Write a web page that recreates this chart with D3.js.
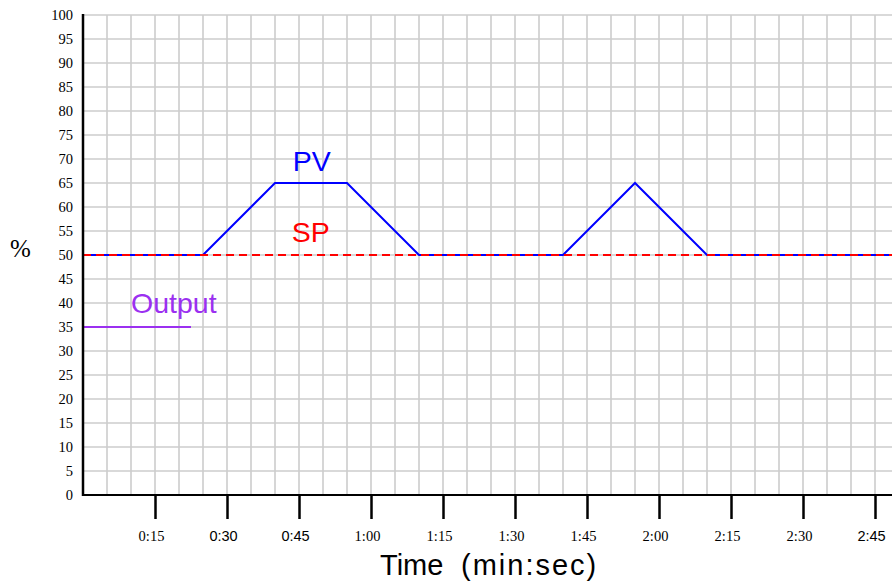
<!DOCTYPE html>
<html>
<head>
<meta charset="utf-8">
<script src="https://cdn.jsdelivr.net/npm/d3@7"></script>
<style>
  html, body { margin: 0; padding: 0; background: #fff; }
  svg { display: block; }
</style>
</head>
<body>
<svg id="chart" width="892" height="586"></svg>
<script>
// ---- data ----
const pvTimes   = [0, 25, 40, 55, 70, 100, 115, 130, 180];
const pvValues  = [50, 50, 65, 65, 50, 50, 65, 50, 50];
const spTimes   = [0, 180];
const spValues  = [50, 50];
const outTimes  = [0, 22.5];
const outValues = [35, 35];
const xTickSeconds = [15, 30, 45, 60, 75, 90, 105, 120, 135, 150, 165];
const xTickLabels  = ["0:15", "0:30", "0:45", "1:00", "1:15", "1:30", "1:45", "2:00", "2:15", "2:30", "2:45"];
const xTickSans    = ["0:30", "0:45", "2:45"];
const yTicks = d3.range(0, 101, 5);
const seriesLabels = [
  {text: "PV", t: 43.7, v: 67.6, color: "#0000ff"},
  {text: "SP", t: 43.5, v: 52.8, color: "#ff0000"},
  {text: "Output", t: 10.0, v: 37.9, color: "#9b30f0"}
];

(function () {
// ---- layout ----
const W = 892, H = 586;
const mLeft = 83, mTop = 15, mBottom = 495;
const pxPerUnit = (mBottom - mTop) / 100;
const svg = d3.select("#chart");

const x = d3.scaleLinear().domain([0, 180]).range([mLeft, mLeft + 180 * pxPerUnit]);
const y = d3.scaleLinear().domain([0, 100]).range([mBottom, mTop]);

svg.append("defs").append("clipPath").attr("id", "plotclip")
  .append("rect").attr("x", mLeft).attr("y", 0).attr("width", W - mLeft).attr("height", mBottom + 1);

// grid
const grid = svg.append("g").attr("stroke", "#cccccc").attr("stroke-width", 1.6);
const vGrid = d3.range(5, 200, 5).filter(s => x(s) <= W);
grid.selectAll("line.v").data(vGrid).join("line").attr("class", "v")
  .attr("x1", d => x(d)).attr("x2", d => x(d))
  .attr("y1", y(100)).attr("y2", y(0));
grid.selectAll("line.h").data(yTicks.filter(d => d > 0)).join("line").attr("class", "h")
  .attr("x1", mLeft).attr("x2", W)
  .attr("y1", d => y(d)).attr("y2", d => y(d));

// lines
const lineGen = (ts, vs) => d3.line().x((d, i) => x(ts[i])).y((d, i) => y(vs[i]))(vs);
const plot = svg.append("g").attr("clip-path", "url(#plotclip)");
plot.append("path").attr("d", lineGen(outTimes, outValues))
  .attr("fill", "none").attr("stroke", "#9b30f0").attr("stroke-width", 2);
plot.append("path").attr("d", lineGen(pvTimes, pvValues))
  .attr("fill", "none").attr("stroke", "#0000ff").attr("stroke-width", 2);
plot.append("path").attr("d", lineGen(spTimes, spValues))
  .attr("fill", "none").attr("stroke", "#ff0000").attr("stroke-width", 2)
  .attr("stroke-dasharray", "8,5");

// x axis
const xAxis = d3.axisBottom(x).tickValues(xTickSeconds)
  .tickSize(24).tickPadding(12)
  .tickFormat((d, i) => xTickLabels[i]);
const gx = svg.append("g").attr("transform", `translate(0,${mBottom})`).call(xAxis);
gx.select(".domain").remove();
gx.selectAll(".tick line").attr("stroke", "#000").attr("stroke-width", 2.5);
gx.selectAll(".tick text")
  .attr("dx", -4)
  .attr("fill", "#000")
  .style("font-size", "14.5px")
  .style("font-family", d => xTickSans.includes(xTickLabels[xTickSeconds.indexOf(d)]) ? "'Liberation Sans', Arial, sans-serif" : "'Liberation Serif', 'Times New Roman', serif");
svg.append("line").attr("x1", mLeft).attr("x2", W).attr("y1", mBottom).attr("y2", mBottom)
  .attr("stroke", "#000").attr("stroke-width", 2);

// y axis
const yAxis = d3.axisLeft(y).tickValues(yTicks).tickSize(0).tickPadding(10);
const gy = svg.append("g").attr("transform", `translate(${mLeft},0)`).call(yAxis);
gy.select(".domain").remove();
gy.selectAll(".tick text").attr("fill", "#000")
  .style("font-size", "14.5px")
  .style("font-family", "'Liberation Serif', 'Times New Roman', serif");
svg.append("line").attr("x1", mLeft).attr("x2", mLeft).attr("y1", y(100) - 1).attr("y2", mBottom + 1)
  .attr("stroke", "#000").attr("stroke-width", 2.5);

// axis titles
svg.append("text").attr("x", 20.5).attr("y", 257).attr("text-anchor", "middle")
  .style("font-family", "'Liberation Serif', 'Times New Roman', serif").style("font-size", "25px")
  .text("%");
const tl = svg.append("text").attr("x", 380).attr("y", 575)
  .style("font-family", "'Liberation Sans', Arial, sans-serif").style("font-size", "29px");
tl.append("tspan").text("Time");
tl.append("tspan").attr("x", 461).style("letter-spacing", "2px").text("(min:sec)");

// series labels
svg.selectAll("text.lbl").data(seriesLabels).join("text").attr("class", "lbl")
  .attr("x", d => x(d.t)).attr("y", d => y(d.v))
  .attr("fill", d => d.color)
  .style("font-family", "'Liberation Sans', Arial, sans-serif").style("font-size", "28.5px")
  .text(d => d.text);
})();
</script>
</body>
</html>
